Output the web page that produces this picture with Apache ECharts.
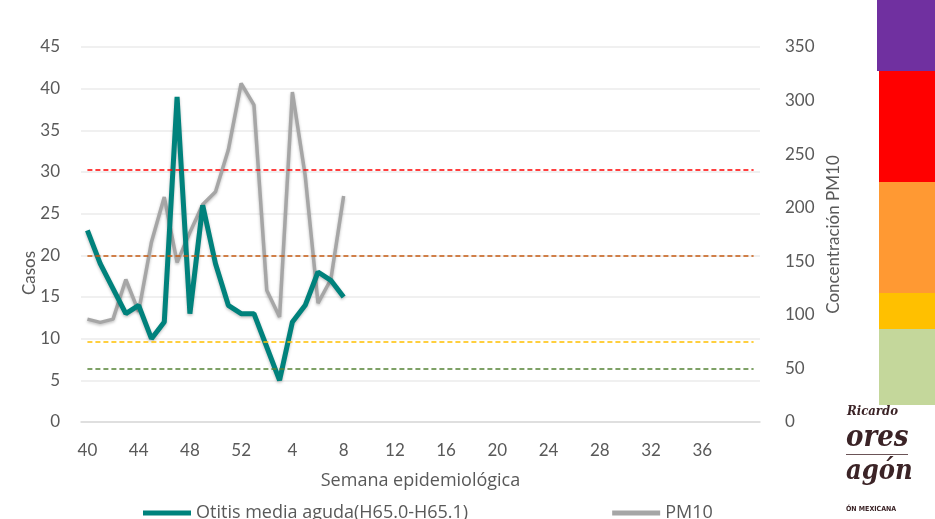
<!DOCTYPE html>
<html>
<head>
<meta charset="utf-8">
<script src="https://cdn.jsdelivr.net/npm/echarts@6/dist/echarts.min.js"></script>
<style>
  html, body { margin: 0; padding: 0; background: #fff; }
  #chart { width: 935px; height: 519px; }
</style>
</head>
<body>
<div id="chart"></div>
<script>
// semanas epidemiológicas (40..52, 1..40)
const semanas = ['40','41','42','43','44','45','46','47','48','49','50','51','52',
  '1','2','3','4','5','6','7','8','9','10','11','12','13','14','15','16','17','18','19','20',
  '21','22','23','24','25','26','27','28','29','30','31','32','33','34','35','36','37','38','39','40'];

// casos de otitis media aguda (eje izquierdo)
const otitis = [23, 19, 16, 13, 14, 10, 12, 39, 13, 26, 19, 14, 13, 13, 9, 5, 12, 14, 18, 17, 15];

// concentración PM10 (eje derecho)
const pm10 = [96, 93, 96, 133, 103, 168, 210, 149, 177, 203, 215, 254, 316, 296, 123, 98, 308, 230, 111, 133, 211];

// límites del índice PM10
const limites = [235, 155, 75, 50];
const coloresLimite = ['#FF0000', '#C55A11', '#FFC000', '#548235'];

const fuente = 'Lato';
const fuenteAncha = 'Open Sans';
const gris = '#595959';

const chart = echarts.init(document.getElementById('chart'));

const marcas = limites.map((v, i) => [
  { coord: [0, v], lineStyle: { color: coloresLimite[i], type: [5, 3], width: 1.5 } },
  { coord: [semanas.length - 1, v] }
]);

const option = {
  animation: false,
  backgroundColor: '#fff',
  grid: { left: 81, right: 175, top: 47, bottom: 97 },
  legend: {
    left: 138,
    top: 499,
    icon: 'rect',
    itemWidth: 48,
    itemHeight: 5,
    itemGap: 144,
    textStyle: { fontFamily: fuenteAncha, fontSize: 18, color: gris },
    data: ['Otitis media aguda(H65.0-H65.1)', 'PM10']
  },
  xAxis: {
    type: 'category',
    data: semanas,
    boundaryGap: true,
    axisTick: { show: false },
    axisLine: { lineStyle: { color: '#D9D9D9', width: 1.5 } },
    axisLabel: {
      interval: (i) => i % 4 === 0 && i < semanas.length - 1,
      margin: 20,
      fontFamily: fuente, fontSize: 17, color: gris
    },
    name: 'Semana epidemiológica',
    nameLocation: 'middle',
    nameGap: 50,
    nameTextStyle: { fontFamily: fuenteAncha, fontSize: 18, color: gris }
  },
  yAxis: [
    {
      type: 'value',
      min: 0, max: 45, interval: 5,
      axisLine: { show: false },
      axisTick: { show: false },
      axisLabel: { margin: 21, fontFamily: fuente, fontSize: 17, color: gris },
      splitLine: { lineStyle: { color: '#EBEBEB', width: 1.5 } }
    },
    {
      type: 'value',
      min: 0, max: 350, interval: 50,
      position: 'right',
      axisLine: { show: false },
      axisTick: { show: false },
      axisLabel: { margin: 25, fontFamily: fuente, fontSize: 17, color: gris },
      splitLine: { show: false },
      name: 'Concentración PM10',
      nameLocation: 'middle',
      nameGap: 61,
      nameTextStyle: { fontFamily: fuente, fontSize: 17, color: gris }
    }
  ],
  series: [
    {
      name: 'PM10',
      type: 'line',
      yAxisIndex: 1,
      data: pm10,
      symbol: 'none',
      z: 2,
      lineStyle: { color: '#A6A6A6', width: 3.5, shadowBlur: 3, shadowColor: 'rgba(0,0,0,0.25)', shadowOffsetY: 1.5 },
      itemStyle: { color: '#A6A6A6' },
      markLine: {
        silent: true,
        symbol: 'none',
        label: { show: false },
        data: marcas
      }
    },
    {
      name: 'Otitis media aguda(H65.0-H65.1)',
      type: 'line',
      yAxisIndex: 0,
      data: otitis,
      symbol: 'none',
      z: 3,
      lineStyle: { color: '#00827C', width: 5, shadowBlur: 3, shadowColor: 'rgba(0,0,0,0.25)', shadowOffsetY: 1.5 },
      itemStyle: { color: '#00827C' }
    }
  ],
  graphic: [
    {
      type: 'text', x: 30, y: 273, rotation: Math.PI / 2,
      style: { text: 'Casos', fontFamily: fuente, fontSize: 17, fill: gris, align: 'center', verticalAlign: 'middle' }
    },
    // escala de colores
    { type: 'rect', shape: { x: 877, y: 0, width: 58, height: 71 }, style: { fill: '#7030A0' } },
    { type: 'rect', shape: { x: 879, y: 71, width: 56, height: 111 }, style: { fill: '#FF0000' } },
    { type: 'rect', shape: { x: 879, y: 182, width: 56, height: 111 }, style: { fill: '#FF9933' } },
    { type: 'rect', shape: { x: 879, y: 293, width: 56, height: 36 }, style: { fill: '#FFC000' } },
    { type: 'rect', shape: { x: 879, y: 329, width: 56, height: 76 }, style: { fill: '#C4D79B' } },
    // logo
    { type: 'text', x: 847, y: 412, style: { text: 'Ricardo', fontFamily: 'DejaVu Serif Condensed', fontStyle: 'italic', fontWeight: 'bold', fontSize: 13, fill: '#3B2326', verticalAlign: 'middle' } },
    { type: 'text', x: 846, y: 438, style: { text: 'ores', fontFamily: 'DejaVu Serif Condensed', fontStyle: 'italic', fontWeight: 'bold', fontSize: 29, fill: '#3B2326', verticalAlign: 'middle' } },
    { type: 'text', x: 846, y: 472, style: { text: 'agón', fontFamily: 'DejaVu Serif Condensed', fontStyle: 'italic', fontWeight: 'bold', fontSize: 27, fill: '#3B2326', verticalAlign: 'middle' } },
    { type: 'rect', shape: { x: 846, y: 454, width: 62, height: 1 }, style: { fill: '#6B5457' } },
    { type: 'text', x: 846, y: 509, style: { text: 'ÓN MEXICANA', fontFamily: 'DejaVu Sans Condensed', fontWeight: 'bold', fontSize: 7, fill: '#3B2326', verticalAlign: 'middle' } }
  ]
};

chart.setOption(option);
</script>
</body>
</html>
